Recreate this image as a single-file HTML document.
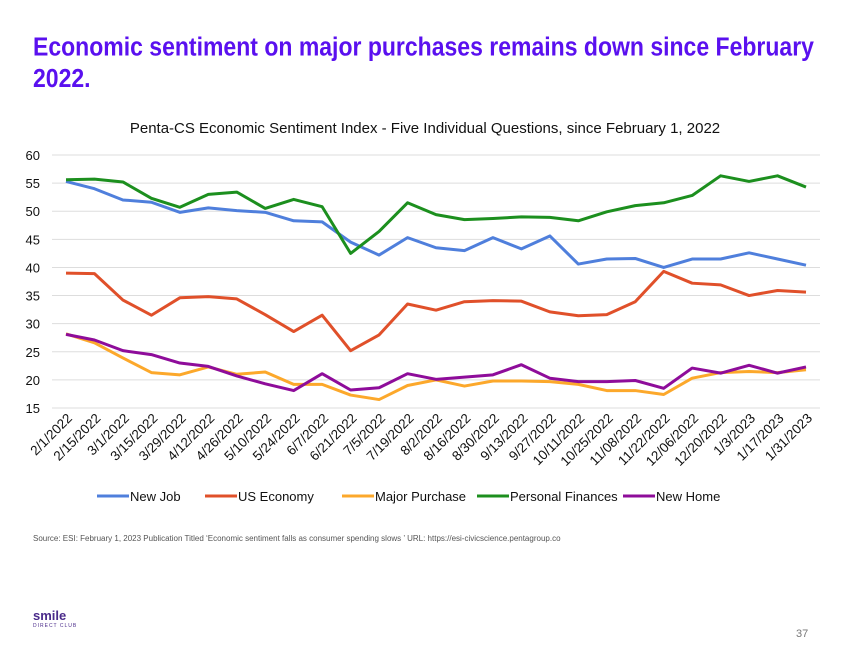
<!DOCTYPE html>
<html><head><meta charset="utf-8">
<style>
body{margin:0;width:850px;height:657px;background:#fff;font-family:"Liberation Sans",sans-serif;overflow:hidden;position:relative}
#title{position:absolute;left:33px;top:31px;width:820px;font-size:23px;font-weight:bold;color:#5a10ef;line-height:28px;transform:scaleY(1.12);transform-origin:0 0}
#src{position:absolute;left:33px;top:534px;font-size:8px;color:#555}
#pg{position:absolute;left:796px;top:628px;font-size:11px;color:#777}
#logo{position:absolute;left:33px;top:608px;font-size:13px;font-weight:bold;color:#4a2a8a}
</style></head><body>
<div id="title">Economic sentiment on major purchases remains down since February 2022.</div>
<svg id="chart" width="850" height="520" style="position:absolute;left:0;top:0"></svg>
<div id="src">Source: ESI: February 1, 2023 Publication Titled ‘Economic sentiment falls as consumer spending slows ’ URL: https://esi-civicscience.pentagroup.co</div>
<div id="logo">smile<div style="font-size:5px;letter-spacing:1px;font-weight:normal">DIRECT CLUB</div></div>
<div id="pg">37</div>
<script>
const categories=["2/1/2022","2/15/2022","3/1/2022","3/15/2022","3/29/2022","4/12/2022","4/26/2022","5/10/2022","5/24/2022","6/7/2022","6/21/2022","7/5/2022","7/19/2022","8/2/2022","8/16/2022","8/30/2022","9/13/2022","9/27/2022","10/11/2022","10/25/2022","11/08/2022","11/22/2022","12/06/2022","12/20/2022","1/3/2023","1/17/2023","1/31/2023"];
const newJob=[55.3,54,52,51.6,49.8,50.6,50.1,49.8,48.3,48.1,44.5,42.2,45.3,43.5,43,45.3,43.3,45.6,40.6,41.5,41.6,40,41.5,41.5,42.6,41.5,40.4];
const usEconomy=[39,38.9,34.2,31.5,34.6,34.8,34.4,31.6,28.6,31.5,25.2,28,33.5,32.4,33.9,34.1,34,32.1,31.4,31.6,33.9,39.3,37.2,36.9,35,35.9,35.6];
const majorPurchase=[28.2,26.6,23.9,21.3,20.9,22.3,21,21.4,19.2,19.2,17.3,16.5,19,20,18.9,19.8,19.8,19.7,19.2,18.1,18.1,17.4,20.3,21.3,21.5,21.3,21.8];
const personalFinances=[55.6,55.7,55.2,52.3,50.7,53,53.4,50.5,52.1,50.8,42.5,46.4,51.5,49.4,48.5,48.7,49,48.9,48.3,49.9,51,51.5,52.8,56.3,55.3,56.3,54.3];
const newHome=[28.1,27.1,25.2,24.5,23,22.4,20.7,19.3,18.1,21.1,18.2,18.6,21.1,20.1,20.5,20.9,22.7,20.3,19.7,19.7,19.9,18.5,22.1,21.2,22.6,21.2,22.3];
const yTicks=[15,20,25,30,35,40,45,50,55,60];
const seriesNames=["New Job","US Economy","Major Purchase","Personal Finances","New Home"];
const svg=document.getElementById('chart');const NS="http://www.w3.org/2000/svg";
function mk(t,a){const e=document.createElementNS(NS,t);for(const k in a)e.setAttribute(k,a[k]);svg.appendChild(e);return e;}
const x=i=>66+i*(740/(categories.length-1));
const y=v=>408-(v-15)*(253/45);
let t=mk('text',{x:425,y:133,'text-anchor':'middle','font-size':15,fill:'#111'});t.textContent="Penta-CS Economic Sentiment Index - Five Individual Questions, since February 1, 2022";


yTicks.forEach(v=>{const l=mk('line',{x1:52,x2:820,y1:y(v),y2:y(v),stroke:'#ddd','stroke-width':1});


const tx=mk('text',{x:40,y:y(v)+5,'text-anchor':'end','font-size':13,fill:'#111'});tx.textContent=v;

});
categories.forEach((c,i)=>{const tx=mk('text',{x:x(i)+7,y:419,'text-anchor':'end','font-size':13.5,fill:'#111',transform:`rotate(-45 ${x(i)+7} 419)`});tx.textContent=c;

});
const data=[newJob,usEconomy,majorPurchase,personalFinances,newHome];
const colors=["#4f7fdc","#e0502a","#fca82b","#1c8f1e","#8e0c9a"];
data.forEach((d,s)=>{const p=mk('polyline',{points:d.map((v,i)=>x(i)+','+y(v)).join(' '),fill:'none',stroke:colors[s],'stroke-width':3,'stroke-linejoin':'round'});

});
const lx=[97,205,342,477,623];
seriesNames.forEach((n,s)=>{const l=mk('line',{x1:lx[s],x2:lx[s]+32,y1:496,y2:496,stroke:colors[s],'stroke-width':3});


const tx=mk('text',{x:lx[s]+33,y:501,'font-size':13,fill:'#111'});tx.textContent=n;

});
</script>
</body></html>
